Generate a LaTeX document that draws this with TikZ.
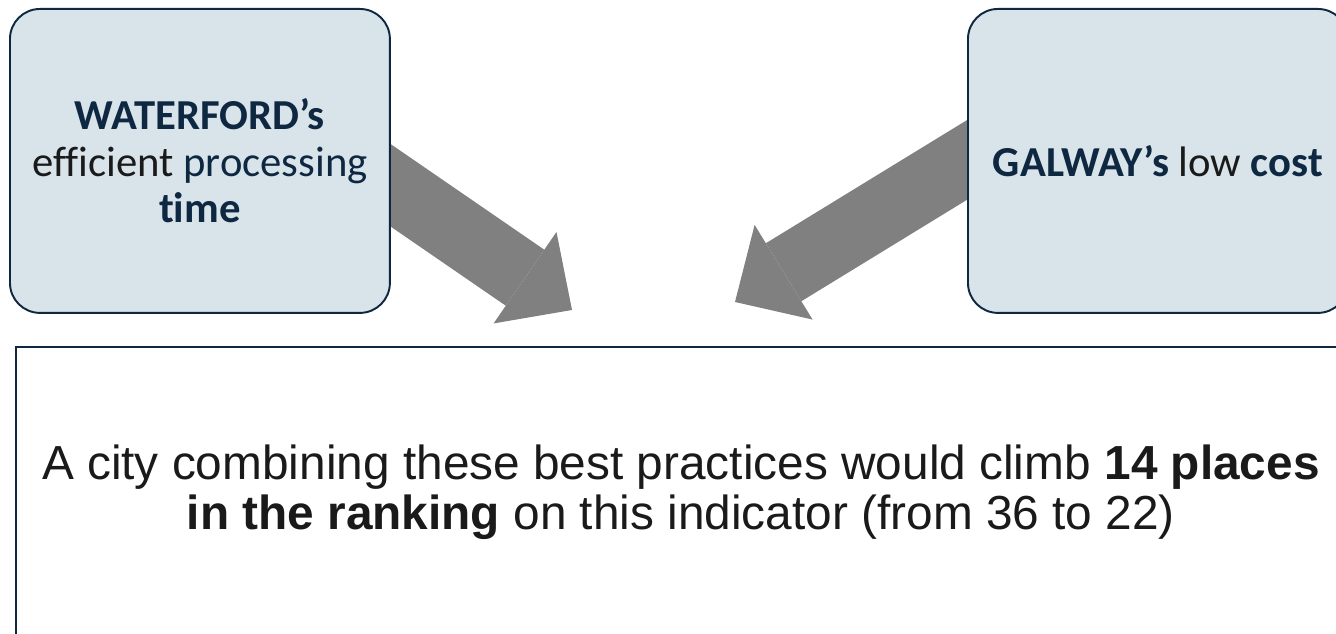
\documentclass[tikz,border=0pt]{standalone}
\usepackage{fontspec}
\setmainfont{Carlito}[Ligatures=NoCommon]
\newfontfamily\arialfont{Liberation Sans}
\usetikzlibrary{arrows.meta}
\definecolor{navy}{HTML}{0E2841}
\definecolor{boxfill}{HTML}{D9E3EA}
\definecolor{arrowgray}{HTML}{808080}
\definecolor{ink}{HTML}{1A1A1A}
\begin{document}
\begin{tikzpicture}[x=0.02cm,y=-0.02cm,
	citybox/.style={draw=navy,line width=1.1pt,fill=boxfill,rounded corners=0.6cm,minimum width=7.6cm,minimum height=6.08cm,align=center,text=ink,font=\fontsize{24.3}{26.5}\selectfont},
	bigarrow/.style={arrowgray,line width=1.36cm,-{Triangle[length=1.14cm,width=2.22cm,line width=0pt]}}]
			\useasboundingbox (0,0) rectangle (1336,634);
			\coordinate (wtail) at (300,123);
			\coordinate (wtip) at (572,310);
			\coordinate (gtail) at (1060,103);
			\coordinate (gtip) at (735,302);
			\draw[bigarrow] (wtail)--(wtip);
			\draw[bigarrow] (gtail)--(gtip);
			\node[citybox,anchor=north west] (waterford) at (9,8) {\textcolor{navy}{\textbf{WATERFORD’s}}\\efficient \textcolor{navy}{processing}\\\textcolor{navy}{\textbf{time}}};
			\node[citybox,anchor=north west] (galway) at (967,8) {\textcolor{navy}{\textbf{GALWAY’s}} low \textcolor{navy}{\textbf{cost}}};
			\node[draw=navy,line width=1.1pt,minimum width=26.6cm,minimum height=5.8cm,anchor=north west,align=center,text=ink,font=\arialfont\fontsize{27.2}{28.6}\selectfont] (result) at (15,346) {A city combining these best practices would climb \textbf{14 places}\\\textbf{in the ranking} on this indicator (from 36 to 22)};
		\end{tikzpicture}
\end{document}
